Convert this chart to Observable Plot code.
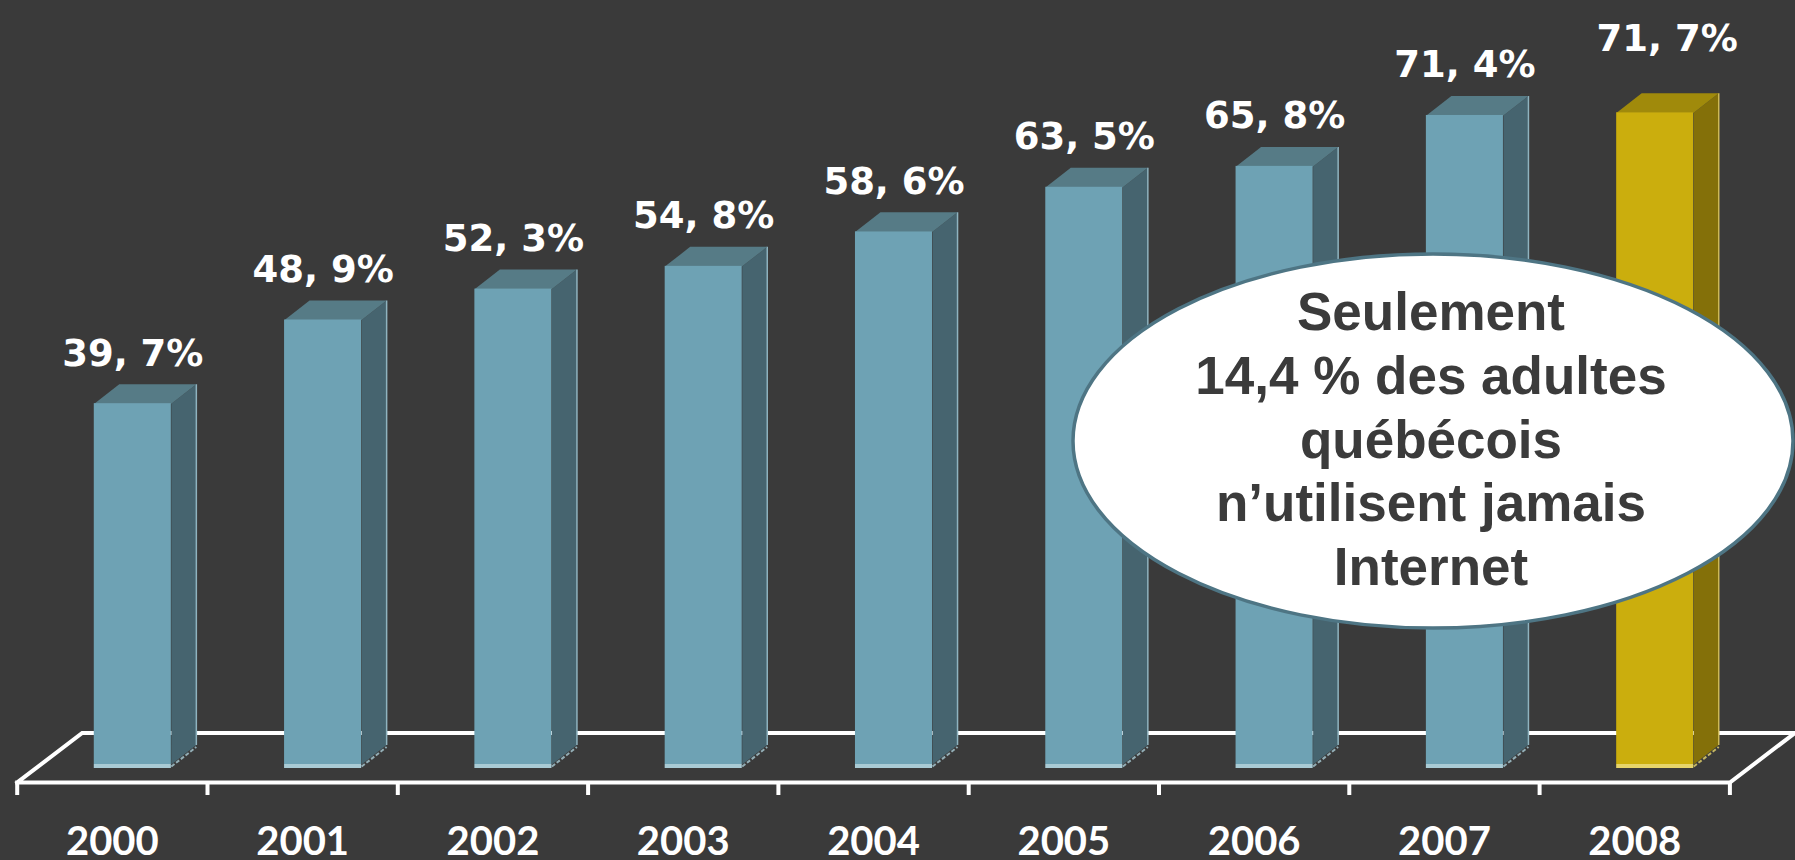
<!DOCTYPE html>
<html>
<head>
<meta charset="utf-8">
<script src="https://cdn.jsdelivr.net/npm/d3@7"></script>
<script src="https://cdn.jsdelivr.net/npm/@observablehq/plot@0.6"></script>
<style>
  html, body { margin: 0; padding: 0; background: #3a3a3a; overflow: hidden; }
  #chart svg { display: block; }
</style>
</head>
<body>
<div id="chart"></div>
<script>
// ---- data ----
const years = ["2000", "2001", "2002", "2003", "2004", "2005", "2006", "2007", "2008"];
const values = [39.7, 48.9, 52.3, 54.8, 58.6, 63.5, 65.8, 71.4, 71.7];
const highlightYear = "2008";
const calloutLines = ["Seulement", "14,4 % des adultes", "québécois", "n’utilisent jamais", "Internet"];

// ---- layout ----
const W = 1795, H = 860;
const X0 = 16.7, BAND = 190.3;      // px of first band edge, px per category
const Y0 = 764, PX_PER_PCT = 9.09;  // px of zero, px per percent
const dxU = px => px / BAND;
const dyU = px => px / PX_PER_PCT;

const BAR_L = 0.405, BAR_R = 0.81;
const DEPTH_X = dxU(25), DEPTH_Y = dyU(19.5);
const FLOOR_FRONT = dyU(Y0 - 782), FLOOR_BACK = dyU(Y0 - 732.5), FLOOR_DX = dxU(65);
const TICK_LEN = dyU(13);
const YEAR_BASE = dyU(Y0 - 854);

const teal = {front: "#6ea2b4", side: "#46646f", top: "#567b86", strip: "#a9cbd5", edge: "#8fb3bf"};
const gold = {front: "#cbae0d", side: "#847009", top: "#a08a0b", strip: "#e6d46a", edge: "#cdb957"};
const pal = d => d.hl ? gold : teal;

const bars = years.map((year, i) => ({year, i, value: values[i], hl: year === highlightYear}));

const poly = (b, pts) => pts.map(([x, y]) => ({x, y, id: b.year, hl: b.hl}));
const sides = bars.flatMap(b => poly(b, [
  [b.i + BAR_R, 0], [b.i + BAR_R + DEPTH_X, DEPTH_Y],
  [b.i + BAR_R + DEPTH_X, b.value + DEPTH_Y], [b.i + BAR_R, b.value]
]));
const tops = bars.flatMap(b => poly(b, [
  [b.i + BAR_L, b.value], [b.i + BAR_R, b.value],
  [b.i + BAR_R + DEPTH_X, b.value + DEPTH_Y], [b.i + BAR_L + DEPTH_X, b.value + DEPTH_Y]
]));
const sideBottoms = bars.flatMap(b => poly(b, [
  [b.i + BAR_R, -dyU(2)], [b.i + BAR_R + DEPTH_X, DEPTH_Y - dyU(2)]
]));
const backEdges = bars.flatMap(b => poly(b, [
  [b.i + BAR_R + DEPTH_X, DEPTH_Y], [b.i + BAR_R + DEPTH_X, b.value + DEPTH_Y]
]));

const floor = [
  {x: 0, y: FLOOR_FRONT}, {x: years.length, y: FLOOR_FRONT},
  {x: years.length + FLOOR_DX, y: FLOOR_BACK}, {x: FLOOR_DX, y: FLOOR_BACK},
  {x: 0, y: FLOOR_FRONT}
];

const fmt = v => d3.format(".1f")(v).replace(".", ", ") + "%";
const valueFont = "'DejaVu Sans', Verdana, sans-serif";
const yearFont = "Lato, 'Noto Sans', sans-serif";

function callout() {
  const g = d3.create("svg:g");
  g.append("ellipse")
    .attr("cx", 1433).attr("cy", 441).attr("rx", 360).attr("ry", 187)
    .attr("fill", "#ffffff").attr("stroke", "#4e7584").attr("stroke-width", 3.5);
  const t = g.append("text")
    .attr("text-anchor", "middle")
    .attr("font-family", "'Liberation Sans', Arial, sans-serif")
    .attr("font-weight", "bold").attr("font-size", 53).attr("fill", "#3b3b3b");
  calloutLines.forEach((line, k) => {
    t.append("tspan").attr("x", 1431).attr("y", 330 + k * 63.8).text(line);
  });
  return g.node();
}

const chart = Plot.plot({
  width: W, height: H,
  margin: 0,
  style: {background: "#3a3a3a", overflow: "visible"},
  x: {type: "linear", domain: [0, years.length], range: [X0, X0 + years.length * BAND], axis: null},
  y: {type: "linear", domain: [0, 80], range: [Y0, Y0 - 80 * PX_PER_PCT], axis: null},
  marks: [
    // floor
    Plot.line(floor, {x: "x", y: "y", stroke: "#ffffff", strokeWidth: 4, strokeLinejoin: "miter", strokeLinecap: "square", strokeMiterlimit: 10}),
    Plot.ruleX(d3.range(years.length + 1), {x: d => d, y1: () => FLOOR_FRONT, y2: () => FLOOR_FRONT - TICK_LEN, stroke: "#ffffff", strokeWidth: 4}),
    // bars
    Plot.line(sides, {x: "x", y: "y", z: "id", fill: d => pal(d).side, stroke: "none"}),
    Plot.line(backEdges, {x: "x", y: "y", z: "id", stroke: d => pal(d).edge, strokeWidth: 1.5, strokeLinecap: "butt"}),
    Plot.line(sideBottoms, {x: "x", y: "y", z: "id", stroke: d => pal(d).strip, strokeWidth: 2, strokeDasharray: "4,2", strokeLinecap: "butt", strokeOpacity: 0.8}),
    Plot.line(tops, {x: "x", y: "y", z: "id", fill: d => pal(d).top, stroke: "none"}),
    Plot.rect(bars, {x1: d => d.i + BAR_L, x2: d => d.i + BAR_R, y1: 0, y2: "value", fill: d => pal(d).front}),
    Plot.rect(bars, {x1: d => d.i + BAR_L, x2: d => d.i + BAR_R, y1: () => 0, y2: () => -dyU(4), fill: d => pal(d).strip}),
    // value labels
    Plot.text(bars.filter(d => !d.hl), {x: d => d.i + (BAR_L + BAR_R) / 2, y: "value", text: d => fmt(d.value),
      dy: -38, lineAnchor: "bottom", fill: "#ffffff", fontSize: 37, fontWeight: "bold", fontFamily: valueFont}),
    Plot.text(bars.filter(d => d.hl), {x: d => d.i + (BAR_L + BAR_R) / 2, y: "value", text: d => fmt(d.value),
      dx: 12, dy: -62, lineAnchor: "bottom", fill: "#ffffff", fontSize: 37, fontWeight: "bold", fontFamily: valueFont}),
    // year labels
    Plot.text(bars, {x: d => d.i + 0.5, y: () => YEAR_BASE, text: "year", lineAnchor: "bottom",
      fill: "#ffffff", fontSize: 40, fontWeight: "bold", fontFamily: yearFont}),
    // callout
    callout
  ]
});
document.getElementById("chart").appendChild(chart);
</script>
</body>
</html>
